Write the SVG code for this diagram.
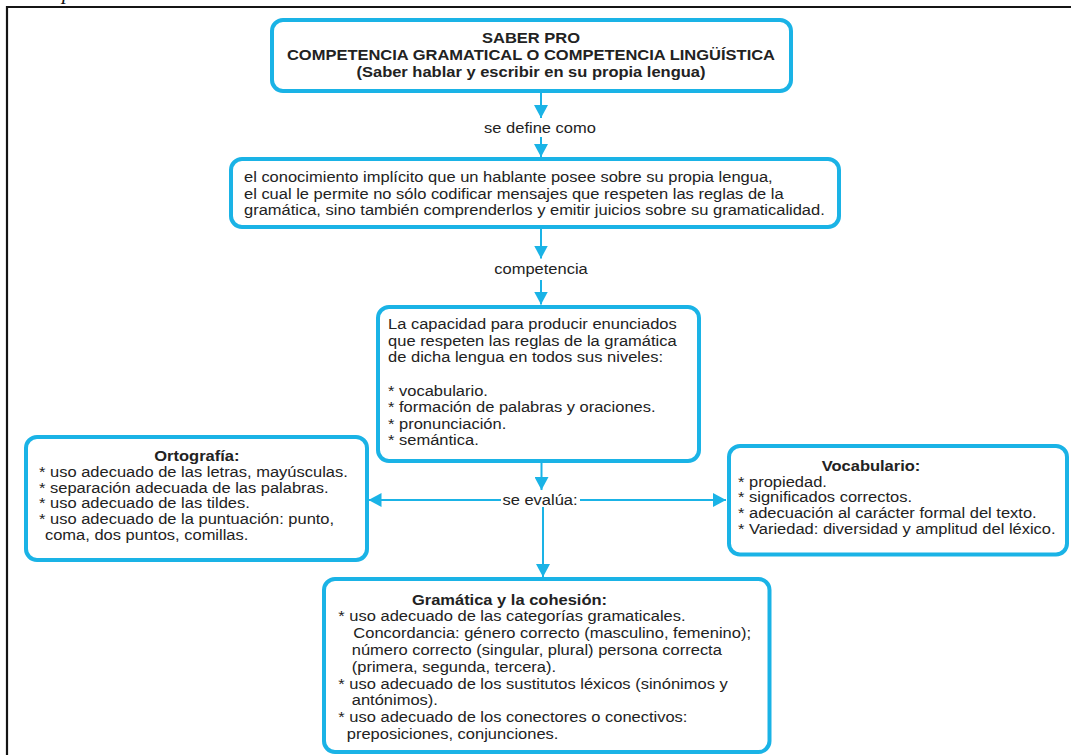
<svg xmlns="http://www.w3.org/2000/svg" width="1071" height="755" viewBox="0 0 1071 755">
<style>
.box{fill:#fff;stroke:#1ab3e6;stroke-width:4}
.conn{stroke:#1ab3e6;stroke-width:2;fill:none}
.t{font-family:"Liberation Sans",Arial,Helvetica,sans-serif;font-size:14.5px;fill:#222}
.b{font-weight:bold}
.c{text-anchor:middle}
</style>
<defs>
<marker id="ah" markerUnits="userSpaceOnUse" markerWidth="14" markerHeight="14" refX="13" refY="7" orient="auto">
<path d="M0,0 L13,7 L0,14 z" fill="#1ab3e6"/>
</marker>
</defs>
<rect x="0" y="0" width="1071" height="755" fill="#fff"/>
<text x="62" y="-1" font-family="Liberation Serif,serif" font-style="italic" font-size="22" fill="#111">p</text>
<path d="M7,755 L7,7 L1071,7" stroke="#151515" stroke-width="2.2" fill="none"/>

<g id="connectors">
<line class="conn" x1="541" y1="93" x2="541" y2="118" marker-end="url(#ah)"/>
<line class="conn" x1="541" y1="137" x2="541" y2="157" marker-end="url(#ah)"/>
<line class="conn" x1="541" y1="229" x2="541" y2="258.5" marker-end="url(#ah)"/>
<line class="conn" x1="541" y1="280" x2="541" y2="304.5" marker-end="url(#ah)"/>
<line class="conn" x1="541.5" y1="463" x2="541.5" y2="490" marker-end="url(#ah)"/>
<line class="conn" x1="501" y1="500" x2="368.5" y2="500" marker-end="url(#ah)"/>
<line class="conn" x1="580" y1="500" x2="726" y2="500" marker-end="url(#ah)"/>
<line class="conn" x1="543" y1="507" x2="543" y2="577" marker-end="url(#ah)"/>
<g class="t" transform="scale(1.138 1)">
<text class="c" x="474.5" y="133">se define como</text>
<text class="c" x="475.4" y="274.3">competencia</text>
<text class="c" x="474.5" y="505">se evalúa:</text>
</g>
</g>

<g id="saber-pro">
<rect class="box" x="272" y="20" width="519" height="71" rx="11"/>
<g class="t b" transform="scale(1.138 1)">
<text class="c" x="466.6" y="43">SABER PRO</text>
<text class="c" x="466.6" y="60">COMPETENCIA GRAMATICAL O COMPETENCIA LINGÜÍSTICA</text>
<text class="c" x="466.6" y="77">(Saber hablar y escribir en su propia lengua)</text>
</g>
</g>

<g id="definicion">
<rect class="box" x="231" y="159" width="608" height="68" rx="11"/>
<g class="t" transform="scale(1.138 1)">
<text x="214.4" y="182.5">el conocimiento implícito que un hablante posee sobre su propia lengua,</text>
<text x="214.4" y="199">el cual le permite no sólo codificar mensajes que respeten las reglas de la</text>
<text x="214.4" y="215.5">gramática, sino también comprenderlos y emitir juicios sobre su gramaticalidad.</text>
</g>
</g>

<g id="capacidad">
<rect class="box" x="378" y="307" width="321" height="154" rx="11"/>
<g class="t" transform="scale(1.138 1)">
<text x="341" y="329.5">La capacidad para producir enunciados</text>
<text x="341" y="346">que respeten las reglas de la gramática</text>
<text x="341" y="362.5">de dicha lengua en todos sus niveles:</text>
<text x="341" y="396">* vocabulario.</text>
<text x="341" y="412.5">* formación de palabras y oraciones.</text>
<text x="341" y="429">* pronunciación.</text>
<text x="341" y="445.5">* semántica.</text>
</g>
</g>

<g id="ortografia">
<rect class="box" x="26" y="437" width="341" height="123" rx="11"/>
<g class="t" transform="scale(1.138 1)">
<text class="b c" x="173" y="460.7">Ortografía:</text>
<text x="34.3" y="476.7">* uso adecuado de las letras, mayúsculas.</text>
<text x="34.3" y="492.7">* separación adecuada de las palabras.</text>
<text x="34.3" y="508.3">* uso adecuado de las tildes.</text>
<text x="34.3" y="524.3">* uso adecuado de la puntuación: punto,</text>
<text x="39.5" y="540">coma, dos puntos, comillas.</text>
</g>
</g>

<g id="vocabulario">
<rect class="box" x="729" y="446" width="338" height="108.5" rx="11"/>
<g class="t" transform="scale(1.138 1)">
<text class="b c" x="765.4" y="471.2">Vocabulario:</text>
<text x="648.5" y="486.7">* propiedad.</text>
<text x="648.5" y="502.5">* significados correctos.</text>
<text x="648.5" y="518.3">* adecuación al carácter formal del texto.</text>
<text x="648.5" y="534">* Variedad: diversidad y amplitud del léxico.</text>
</g>
</g>

<g id="gramatica">
<rect class="box" x="324" y="579" width="445.5" height="173" rx="11"/>
<g class="t" transform="scale(1.138 1)">
<text class="b c" x="447.7" y="605">Gramática y la cohesión:</text>
<text x="297.3" y="621">* uso adecuado de las categorías gramaticales.</text>
<text x="310.5" y="638">Concordancia: género correcto (masculino, femenino);</text>
<text x="309.1" y="655">número correcto (singular, plural) persona correcta</text>
<text x="309.1" y="672">(primera, segunda, tercera).</text>
<text x="297.3" y="689">* uso adecuado de los sustitutos léxicos (sinónimos y</text>
<text x="309.1" y="705.5">antónimos).</text>
<text x="297.3" y="722.5">* uso adecuado de los conectores o conectivos:</text>
<text x="304.7" y="739.5">preposiciones, conjunciones.</text>
</g>
</g>
</svg>
